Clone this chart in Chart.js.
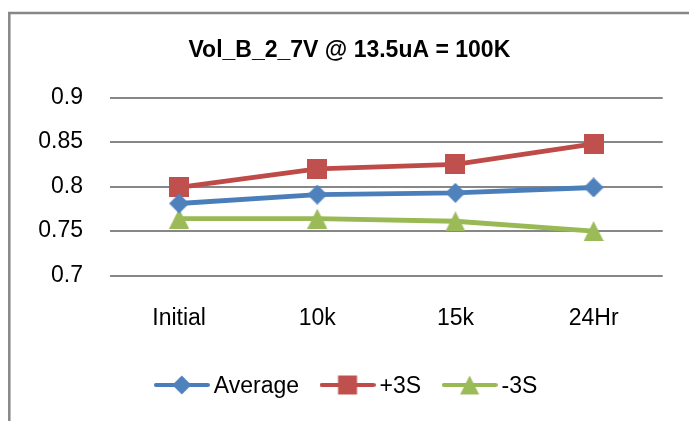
<!DOCTYPE html>
<html>
<head>
<meta charset="utf-8">
<script src="https://cdn.jsdelivr.net/npm/chart.js@4"></script>
<style>
  html, body { margin: 0; padding: 0; background: #fff; }
  canvas { display: block; }
</style>
</head>
<body>
<canvas id="chart" width="689" height="421"></canvas>
<script>
const categories = ['Initial', '10k', '15k', '24Hr'];
const averageValues = [0.781, 0.791, 0.793, 0.799];
const plus3SValues = [0.799, 0.820, 0.825, 0.848];
const minus3SValues = [0.764, 0.764, 0.761, 0.750];
const yTickLabels = ['0.7', '0.75', '0.8', '0.85', '0.9'];

const BLUE = '#4A7EBB', BLUE_FILL = '#4F81BD';
const RED = '#BE4B48', RED_FILL = '#C0504D';
const GREEN = '#98B954', GREEN_FILL = '#9BBB59';
const GRID = '#878787';

// marker shapes as small canvases
function marker(shape, fill, size) {
  const c = document.createElement('canvas');
  c.width = size; c.height = size;
  const g = c.getContext('2d');
  g.fillStyle = fill;
  drawShape(g, shape, size / 2, size / 2, size);
  return c;
}

function drawShape(g, shape, cx, cy, size) {
  const h = size / 2;
  g.beginPath();
  if (shape === 'diamond') {
    g.moveTo(cx, cy - h); g.lineTo(cx + h, cy); g.lineTo(cx, cy + h); g.lineTo(cx - h, cy);
  } else if (shape === 'square') {
    g.rect(cx - h, cy - h, size, size);
  } else {
    g.moveTo(cx, cy - h); g.lineTo(cx + h, cy + h); g.lineTo(cx - h, cy + h);
  }
  g.closePath();
  g.fill();
}

// legend icon: line with marker in the middle
function legendIcon(shape, line, fill) {
  const c = document.createElement('canvas');
  c.width = 56; c.height = 26;
  const g = c.getContext('2d');
  g.strokeStyle = line;
  g.lineWidth = 4;
  g.lineCap = 'round';
  g.beginPath();
  g.moveTo(2, 11); g.lineTo(54, 11);
  g.stroke();
  g.fillStyle = fill;
  drawShape(g, shape, 28, 11, 19);
  return c;
}

const frame = {
  id: 'frame',
  beforeDraw(chart) {
    const ctx = chart.ctx;
    ctx.save();
    ctx.strokeStyle = '#878787';
    ctx.lineWidth = 2.5;
    ctx.beginPath();
    ctx.moveTo(9.3, 421);
    ctx.lineTo(9.3, 13);
    ctx.lineTo(689, 13);
    ctx.stroke();
    ctx.restore();
  }
};

Chart.defaults.font.family = "'Liberation Sans', Arial, sans-serif";
Chart.defaults.font.size = 23;
Chart.defaults.color = '#000';

const icons = [
  legendIcon('diamond', BLUE, BLUE_FILL),
  legendIcon('square', RED, RED_FILL),
  legendIcon('triangle', GREEN, GREEN_FILL),
];

new Chart(document.getElementById('chart'), {
  type: 'line',
  data: {
    labels: categories,
    datasets: [
      {
        label: 'Average',
        data: averageValues,
        borderColor: BLUE,
        borderWidth: 4.8,
        pointStyle: marker('diamond', BLUE_FILL, 20),
      },
      {
        label: '+3S',
        data: plus3SValues,
        borderColor: RED,
        borderWidth: 4.8,
        pointStyle: marker('square', RED_FILL, 20),
      },
      {
        label: '-3S',
        data: minus3SValues,
        borderColor: GREEN,
        borderWidth: 4.8,
        pointStyle: marker('triangle', GREEN_FILL, 20),
      },
    ],
  },
  options: {
    responsive: false,
    animation: false,
    layout: { padding: { left: 36, right: 26.3, top: 0, bottom: 12.5 } },
    plugins: {
      title: {
        display: true,
        text: 'Vol_B_2_7V @ 13.5uA = 100K',
        font: { size: 23, weight: 'bold' },
        padding: { top: 36.8, bottom: 33.3 },
      },
      legend: {
        position: 'bottom',
        labels: {
          usePointStyle: true,
          pointStyleWidth: 41,
          padding: 28,
          generateLabels(chart) {
            return chart.data.datasets.map((ds, i) => ({
              text: ds.label,
              pointStyle: icons[i],
              datasetIndex: i,
              fontColor: '#000',
              lineWidth: 0,
            }));
          },
        },
      },
      tooltip: { enabled: false },
    },
    scales: {
      x: {
        offset: true,
        grid: { display: false, drawTicks: false },
        border: { display: false },
        ticks: { padding: 29 },
        afterFit(scale) { scale.height = 72; },
      },
      y: {
        min: 0.7,
        max: 0.9,
        ticks: {
          stepSize: 0.05,
          padding: 27,
          callback: (value, index) => yTickLabels[index],
        },
        grid: { color: GRID, lineWidth: 2, drawTicks: false },
        border: { display: false },
        afterFit(scale) { scale.width = 74; },
      },
    },
  },
  plugins: [frame],
});
</script>
</body>
</html>
